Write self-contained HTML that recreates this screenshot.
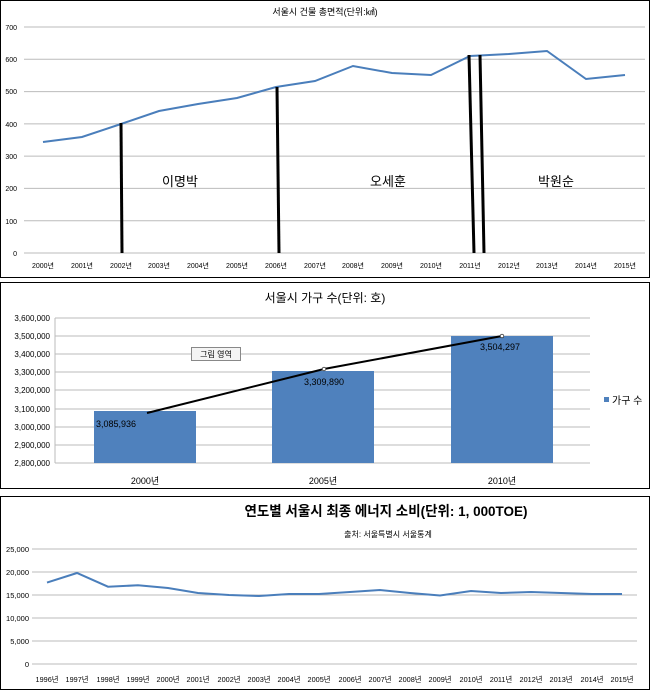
<!DOCTYPE html>
<html><head><meta charset="utf-8"><style>
body{margin:0;background:#fff;width:650px;height:690px;overflow:hidden}
svg{display:block;font-family:"Liberation Sans","Noto Sans CJK KR",sans-serif}
</style></head><body>
<svg width="650" height="690" viewBox="0 0 650 690">
<rect x="0.5" y="0.5" width="649" height="277" fill="#fff" stroke="#000"/>
<rect x="0.5" y="282.5" width="649" height="206" fill="#fff" stroke="#000"/>
<rect x="0.5" y="496.5" width="649" height="193" fill="#fff" stroke="#000"/>
<!-- chart1 -->
<text x="325" y="15" font-size="9" text-anchor="middle">서울시 건물 총면적(단위:㎢)</text>
<g stroke="#bbb" stroke-width="1">
<line x1="24" x2="645" y1="27" y2="27"/><line x1="24" x2="645" y1="59.3" y2="59.3"/><line x1="24" x2="645" y1="91.6" y2="91.6"/><line x1="24" x2="645" y1="123.9" y2="123.9"/><line x1="24" x2="645" y1="156.1" y2="156.1"/><line x1="24" x2="645" y1="188.4" y2="188.4"/><line x1="24" x2="645" y1="220.7" y2="220.7"/><line x1="24" x2="645" y1="253" y2="253"/>
</g>
<g font-size="7" text-anchor="end" fill="#000"><text x="17" y="30">700</text><text x="17" y="62">600</text><text x="17" y="94">500</text><text x="17" y="127">400</text><text x="17" y="159">300</text><text x="17" y="191">200</text><text x="17" y="224">100</text><text x="17" y="256">0</text></g>
<g font-size="7" text-anchor="middle">
<text x="43" y="268">2000년</text><text x="82" y="268">2001년</text><text x="121" y="268">2002년</text><text x="159" y="268">2003년</text><text x="198" y="268">2004년</text><text x="237" y="268">2005년</text><text x="276" y="268">2006년</text><text x="315" y="268">2007년</text><text x="353" y="268">2008년</text><text x="392" y="268">2009년</text><text x="431" y="268">2010년</text><text x="470" y="268">2011년</text><text x="509" y="268">2012년</text><text x="547" y="268">2013년</text><text x="586" y="268">2014년</text><text x="625" y="268">2015년</text></g>
<polyline fill="none" stroke="#4a7ebb" stroke-width="2" points="43,142 82,137 121,124 159,111 198,104 237,98 276,87 315,81 353,66 392,73 431,75 470,56 509,54 547,51 586,79 625,75"/>
<g stroke="#000" stroke-width="3"><line x1="121" y1="123" x2="122" y2="253"/><line x1="277" y1="87" x2="279" y2="253"/><line x1="469" y1="55" x2="474" y2="253"/><line x1="480" y1="55" x2="484" y2="253"/></g>
<g font-size="13" text-anchor="middle"><text x="180" y="186">이명박</text><text x="388" y="186">오세훈</text><text x="556" y="186">박원순</text></g>
<!-- chart2 -->
<text x="325" y="302" font-size="12" text-anchor="middle">서울시 가구 수(단위: 호)</text>
<g stroke="#bbb"><line x1="55" x2="590" y1="318" y2="318"/><line x1="55" x2="590" y1="336" y2="336"/><line x1="55" x2="590" y1="354" y2="354"/><line x1="55" x2="590" y1="372" y2="372"/><line x1="55" x2="590" y1="390" y2="390"/><line x1="55" x2="590" y1="409" y2="409"/><line x1="55" x2="590" y1="427" y2="427"/><line x1="55" x2="590" y1="445" y2="445"/><line x1="55" x2="590" y1="463" y2="463"/><line x1="55" x2="55" y1="318" y2="463"/></g>
<g font-size="8" text-anchor="end"><text x="50" y="321">3,600,000</text><text x="50" y="339">3,500,000</text><text x="50" y="357">3,400,000</text><text x="50" y="375">3,300,000</text><text x="50" y="393">3,200,000</text><text x="50" y="412">3,100,000</text><text x="50" y="430">3,000,000</text><text x="50" y="448">2,900,000</text><text x="50" y="466">2,800,000</text></g>
<g fill="#4f81bd"><rect x="94" y="411" width="102" height="52"/><rect x="272" y="371" width="102" height="92"/><rect x="451" y="336" width="102" height="127"/></g>
<g font-size="9" text-anchor="middle"><text x="116" y="427">3,085,936</text><text x="324" y="385">3,309,890</text><text x="500" y="350">3,504,297</text>
<text x="145" y="484">2000년</text><text x="323" y="484">2005년</text><text x="502" y="484">2010년</text></g>
<polyline fill="none" stroke="#000" stroke-width="2" points="147,413 324,369 502,336"/>
<circle cx="324" cy="369" r="1.8" fill="#fff" stroke="#000" stroke-width="0.6"/><circle cx="502" cy="336" r="1.8" fill="#fff" stroke="#000" stroke-width="0.6"/>
<rect x="191.5" y="347.5" width="49" height="13" fill="#f4f4f4" stroke="#888"/>
<text x="216" y="357" font-size="8" text-anchor="middle">그림 영역</text>
<rect x="604" y="397" width="5" height="5" fill="#4f81bd"/>
<text x="612" y="404" font-size="10">가구 수</text>
<!-- chart3 -->
<text x="386" y="516" font-size="14" font-weight="bold" text-anchor="middle" textLength="283" lengthAdjust="spacingAndGlyphs">연도별 서울시 최종 에너지 소비(단위: 1, 000TOE)</text>
<text x="388" y="537" font-size="8" text-anchor="middle">출처: 서울특별시 서울통계</text>
<g stroke="#bbb"><line x1="32" x2="637" y1="549" y2="549"/><line x1="32" x2="637" y1="572" y2="572"/><line x1="32" x2="637" y1="595" y2="595"/><line x1="32" x2="637" y1="618" y2="618"/><line x1="32" x2="637" y1="641" y2="641"/><line x1="32" x2="637" y1="664" y2="664"/></g>
<g font-size="7.5" text-anchor="end"><text x="29" y="552">25,000</text><text x="29" y="575">20,000</text><text x="29" y="598">15,000</text><text x="29" y="621">10,000</text><text x="29" y="644">5,000</text><text x="29" y="667">0</text></g>
<g font-size="7.3" text-anchor="middle">
<text x="47" y="682">1996년</text><text x="77" y="682">1997년</text><text x="108" y="682">1998년</text><text x="138" y="682">1999년</text><text x="168" y="682">2000년</text><text x="198" y="682">2001년</text><text x="229" y="682">2002년</text><text x="259" y="682">2003년</text><text x="289" y="682">2004년</text><text x="319" y="682">2005년</text><text x="350" y="682">2006년</text><text x="380" y="682">2007년</text><text x="410" y="682">2008년</text><text x="440" y="682">2009년</text><text x="471" y="682">2010년</text><text x="501" y="682">2011년</text><text x="531" y="682">2012년</text><text x="561" y="682">2013년</text><text x="592" y="682">2014년</text><text x="622" y="682">2015년</text></g>
<polyline fill="none" stroke="#4a7ebb" stroke-width="2" points="47,582.6 77,573 108,586.7 138,585.3 168,588 198,593 229,595 259,596 289,594 319,594 350,592 380,590 410,593 440,595.5 471,591 501,593 531,592 561,593 592,594 622,594"/>
</svg>
</body></html>
